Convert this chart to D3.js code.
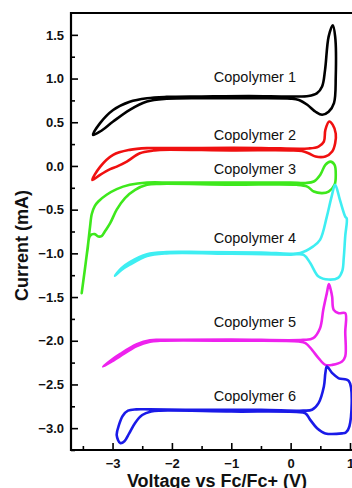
<!DOCTYPE html>
<html>
<head>
<meta charset="utf-8">
<script src="https://cdn.jsdelivr.net/npm/d3@7"></script>
<style>
  html, body { margin: 0; padding: 0; background: #fff; }
  svg { display: block; }
</style>
</head>
<body>
<div id="chart"></div>
<script>
// Cyclic voltammograms, [voltage vs Fc/Fc+ (V), current (mA)]
const copolymer1 = [
  [-3.33, 0.355], [-3.21, 0.49], [-2.99, 0.64], [-2.71, 0.735], [-2.42, 0.775], [-2.09, 0.79],
  [-1.5, 0.795], [-0.7, 0.80], [0.0, 0.795], [0.30, 0.80], [0.44, 0.83], [0.53, 0.91],
  [0.58, 1.10], [0.64, 1.48], [0.71, 1.61], [0.75, 1.48], [0.76, 1.02], [0.73, 0.72],
  [0.64, 0.62], [0.53, 0.585], [0.42, 0.62], [0.28, 0.70], [0.14, 0.755], [0.0, 0.77],
  [-0.7, 0.775], [-1.5, 0.775], [-2.09, 0.768], [-2.42, 0.737], [-2.71, 0.642],
  [-2.99, 0.508], [-3.21, 0.394]
];
const copolymer2 = [
  [-3.34, -0.16], [-3.21, -0.01], [-2.99, 0.127], [-2.71, 0.184], [-2.42, 0.204], [-2.2, 0.205],
  [-1.5, 0.206], [-0.5, 0.206], [0.30, 0.20], [0.47, 0.222], [0.56, 0.279], [0.585, 0.413],
  [0.65, 0.508], [0.71, 0.47], [0.76, 0.37], [0.75, 0.26], [0.70, 0.165], [0.585, 0.108],
  [0.42, 0.108], [0.30, 0.146], [0.19, 0.17], [0.0, 0.178], [-1.0, 0.178], [-2.2, 0.184],
  [-2.31, 0.176], [-2.54, 0.146], [-2.76, 0.05], [-2.93, -0.007], [-3.04, -0.037], [-3.21, -0.102]
];
const copolymer3 = [
  [-3.52, -1.455], [-3.46, -1.15], [-3.41, -0.88], [-3.38, -0.70], [-3.35, -0.55], [-3.30, -0.46],
  [-3.24, -0.407], [-3.10, -0.33], [-2.93, -0.265], [-2.71, -0.216], [-2.42, -0.19], [-2.0, -0.19],
  [-1.0, -0.19], [0.0, -0.19], [0.25, -0.195], [0.39, -0.178], [0.50, -0.10], [0.585, 0.013],
  [0.67, 0.05], [0.74, 0.013], [0.76, -0.10], [0.74, -0.216], [0.64, -0.293], [0.53, -0.311],
  [0.39, -0.293], [0.28, -0.236], [0.1, -0.215], [-1.0, -0.215], [-2.2, -0.205], [-2.42, -0.216],
  [-2.62, -0.273], [-2.79, -0.368], [-2.93, -0.50], [-3.04, -0.655], [-3.13, -0.75], [-3.18, -0.80],
  [-3.24, -0.808], [-3.30, -0.78], [-3.38, -0.80], [-3.42, -0.95], [-3.47, -1.2]
];
const copolymer4 = [
  [-2.96, -1.257], [-2.85, -1.17], [-2.71, -1.10], [-2.42, -1.01], [-2.09, -0.985], [-1.5, -0.985],
  [-0.5, -0.99], [0.16, -0.995], [0.38, -0.92], [0.495, -0.846], [0.61, -0.579], [0.69, -0.35],
  [0.75, -0.216], [0.83, -0.388], [0.92, -0.579], [0.945, -0.60], [0.92, -0.80], [0.895, -1.05],
  [0.87, -1.20], [0.80, -1.28], [0.64, -1.30], [0.47, -1.265], [0.33, -1.11], [0.22, -1.017],
  [0.0, -1.015], [-1.0, -1.005], [-2.09, -1.0], [-2.42, -1.03], [-2.71, -1.13], [-2.85, -1.19]
];
const copolymer5 = [
  [-3.16, -2.295], [-3.02, -2.22], [-2.87, -2.15], [-2.59, -2.04], [-2.37, -1.995], [-2.2, -1.99],
  [-1.0, -1.985], [0.21, -1.99], [0.38, -1.97], [0.495, -1.856], [0.55, -1.646], [0.61, -1.455],
  [0.645, -1.35], [0.68, -1.43], [0.70, -1.50], [0.725, -1.646], [0.81, -1.684], [0.92, -1.684],
  [0.92, -1.9], [0.92, -2.18], [0.866, -2.238], [0.70, -2.276], [0.585, -2.276], [0.47, -2.199],
  [0.36, -2.104], [0.25, -2.027], [0.14, -2.009], [-1.0, -2.0], [-2.2, -2.0], [-2.37, -2.01],
  [-2.59, -2.06], [-2.87, -2.175], [-3.02, -2.24]
];
const copolymer6 = [
  [-2.87, -3.17], [-2.93, -3.08], [-2.89, -2.96], [-2.83, -2.86], [-2.74, -2.80], [-2.6, -2.785],
  [-2.37, -2.785], [-1.5, -2.79], [-0.5, -2.79], [0.21, -2.80], [0.36, -2.79], [0.47, -2.714],
  [0.56, -2.524], [0.585, -2.37], [0.61, -2.295], [0.70, -2.37], [0.81, -2.43], [0.98, -2.46],
  [0.99, -2.98], [0.93, -3.05], [0.866, -3.06], [0.585, -3.06], [0.445, -3.0], [0.33, -2.905],
  [0.25, -2.83], [0.1, -2.815], [-1.0, -2.81], [-2.2, -2.80], [-2.35, -2.81], [-2.5, -2.85],
  [-2.62, -2.94], [-2.72, -3.06], [-2.80, -3.15]
];

const seriesNames = ['Copolymer 1', 'Copolymer 2', 'Copolymer 3', 'Copolymer 4', 'Copolymer 5', 'Copolymer 6'];
const seriesData = [copolymer1, copolymer2, copolymer3, copolymer4, copolymer5, copolymer6];
const seriesColors = ['#000000', '#f01010', '#3ee81c', '#3eeef2', '#ee22ee', '#1a1ae8'];
// label anchor (right end, baseline) in data units
const labelV = [0.09, 0.09, 0.09, 0.09, 0.09, 0.09];
const labelI = [0.962, 0.299, -0.09, -0.883, -1.837, -2.688];

const xMajor = [-3, -2, -1, 0, 1];
const xMinor = [-3.5, -2.5, -1.5, -0.5, 0.5];
const yMajor = [-3.0, -2.5, -2.0, -1.5, -1.0, -0.5, 0.0, 0.5, 1.0, 1.5];
const yMinor = [-3.25, -2.75, -2.25, -1.75, -1.25, -0.75, -0.25, 0.25, 0.75, 1.25];

const width = 352;
const height = 488;
const margin = { left: 71, right: 350, top: 13, bottom: 450 };

const x = d3.scaleLinear().domain([-3.7, 1.0]).range([margin.left, margin.right]);
const y = d3.scaleLinear().domain([-3.25, 1.75]).range([margin.bottom, margin.top]);

const svg = d3.select('#chart')
  .append('svg')
  .attr('width', width)
  .attr('height', height)
  .attr('font-family', '"Liberation Sans", Arial, sans-serif');

// curves
const line = d3.line()
  .curve(d3.curveCatmullRomClosed.alpha(0.5))
  .x(d => x(d[0]))
  .y(d => y(d[1]));

svg.append('g')
  .selectAll('path')
  .data(seriesData)
  .enter()
  .append('path')
  .attr('d', d => line(d))
  .attr('fill', 'none')
  .attr('stroke', (d, i) => seriesColors[i])
  .attr('stroke-width', 2.6)
  .attr('stroke-linejoin', 'round');

// labels
svg.append('g')
  .selectAll('text')
  .data(seriesNames)
  .enter()
  .append('text')
  .attr('x', (d, i) => x(labelV[i]))
  .attr('y', (d, i) => y(labelI[i]))
  .attr('text-anchor', 'end')
  .attr('font-size', 14.5)
  .attr('fill', '#111')
  .text(d => d);

// axes, ticks pointing inward
svg.append('g')
  .attr('transform', `translate(${margin.left},0)`)
  .call(d3.axisLeft(y).tickValues(yMajor).tickSize(-7).tickPadding(7).tickFormat(d3.format('.1f')));
svg.append('g')
  .attr('transform', `translate(${margin.left},0)`)
  .call(d3.axisLeft(y).tickValues(yMinor).tickSize(-4).tickFormat(''));

svg.append('g')
  .attr('transform', `translate(0,${margin.bottom})`)
  .call(d3.axisBottom(x).tickValues(xMajor).tickSize(-7).tickPadding(9).tickFormat(d3.format('d')));
svg.append('g')
  .attr('transform', `translate(0,${margin.bottom})`)
  .call(d3.axisBottom(x).tickValues(xMinor).tickSize(-4).tickFormat(''));

svg.selectAll('.domain').remove();
svg.selectAll('.tick line').attr('stroke', '#000').attr('stroke-width', 1.6);
svg.selectAll('.tick text')
  .attr('font-family', '"Liberation Sans", Arial, sans-serif')
  .attr('font-size', 13)
  .attr('font-weight', 'bold')
  .attr('fill', '#111');

// frame: left, bottom, top
svg.append('path')
  .attr('d', `M${width + 2},${margin.top}H${margin.left}V${margin.bottom}H${width + 2}`)
  .attr('fill', 'none')
  .attr('stroke', '#000')
  .attr('stroke-width', 2.2);

// axis titles
svg.append('text')
  .attr('transform', `translate(28,${(margin.top + margin.bottom) / 2 + 14}) rotate(-90)`)
  .attr('text-anchor', 'middle')
  .attr('font-size', 18)
  .attr('font-weight', 'bold')
  .attr('fill', '#111')
  .text('Current (mA)');

svg.append('text')
  .attr('x', 217)
  .attr('y', 487)
  .attr('text-anchor', 'middle')
  .attr('font-size', 18)
  .attr('font-weight', 'bold')
  .attr('fill', '#111')
  .text('Voltage vs Fc/Fc+ (V)');
</script>
</body>
</html>
